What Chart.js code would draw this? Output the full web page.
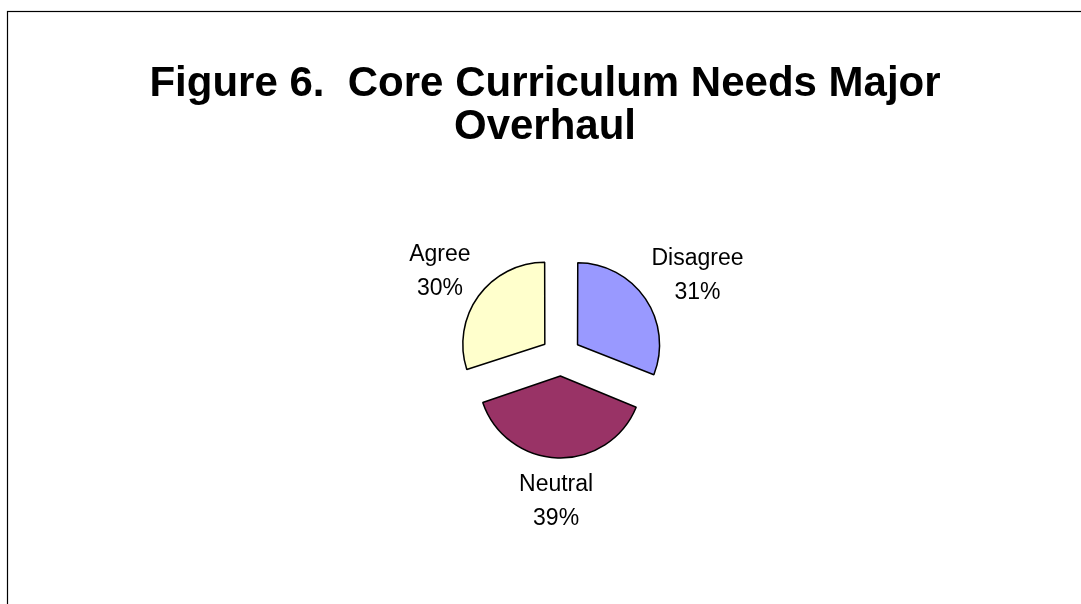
<!DOCTYPE html>
<html>
<head>
<meta charset="utf-8">
<script src="https://cdn.jsdelivr.net/npm/chart.js@4/dist/chart.umd.min.js"></script>
<style>
  html, body { margin: 0; padding: 0; background: #fff; }
  #wrap { width: 1081px; height: 604px; position: relative; }
</style>
</head>
<body>
<div id="wrap"><canvas id="chart"></canvas></div>
<script>
const titleLines = ["Figure 6.  Core Curriculum Needs Major", "Overhaul"];
const categories = ["Disagree", "Neutral", "Agree"];
const shares = [31, 39, 30];
const sliceColors = ["#9999FF", "#993366", "#FFFFCC"];

const fontFamily = "'Liberation Sans', Arial, sans-serif";

// frame + title, drawn behind the pie
const framePlugin = {
  id: "frame",
  beforeDraw(chart) {
    let ctx = chart.ctx;
    ctx.save();
    ctx.fillStyle = "#fff";
    ctx.fillRect(0, 0, chart.width, chart.height);
    ctx.strokeStyle = "#000";
    ctx.lineWidth = 1.2;
    ctx.strokeRect(7.5, 11.5, chart.width + 20, chart.height + 20);
    ctx.fillStyle = "#000";
    ctx.font = "bold 42px " + fontFamily;
    ctx.textAlign = "center";
    ctx.textBaseline = "alphabetic";
    for (let i = 0; i < titleLines.length; i++) {
      ctx.fillText(titleLines[i], 545, 96 + i * 43);
    }
    ctx.restore();
  }
};

// chart.js grows the radius of wide slices when they are offset;
// keep every exploded slice at the same radius
const keepRadius = {
  id: "keepRadius",
  beforeDatasetsDraw(chart) {
    chart.getDatasetMeta(0).data.forEach(arc => {
      let shift = (arc.options.offset || 0) / 4;
      let fix = 1 - Math.sin(Math.min(Math.PI, arc.circumference || 0));
      arc._fullRadius = arc.outerRadius;
      arc.outerRadius = arc.outerRadius - shift * fix;
    });
  },
  afterDatasetsDraw(chart) {
    chart.getDatasetMeta(0).data.forEach(arc => {
      arc.outerRadius = arc._fullRadius;
    });
  }
};

// outside-end labels: name on one line, percentage below
const labelPlugin = {
  id: "sliceLabels",
  afterDatasetsDraw(chart) {
    let ctx = chart.ctx;
    let meta = chart.getDatasetMeta(0);
    let total = shares.reduce((a, b) => a + b, 0);
    ctx.save();
    ctx.font = "23px " + fontFamily;
    ctx.fillStyle = "#000";
    ctx.textAlign = "center";
    ctx.textBaseline = "middle";
    meta.data.forEach((arc, i) => {
      let { x, y, startAngle, endAngle, outerRadius } = arc.getProps(
        ["x", "y", "startAngle", "endAngle", "outerRadius"], true);
      let mid = (startAngle + endAngle) / 2;
      let dx = Math.cos(mid);
      let dy = Math.sin(mid);
      let pct = Math.round(shares[i] / total * 100) + "%";
      let halfW = Math.max(ctx.measureText(categories[i]).width, ctx.measureText(pct).width) / 2;
      let halfH = 26;
      let dist = outerRadius + 20 + 17;
      let cx = x + dx * dist + dx * halfW;
      let cy = y + dy * dist + dy * halfH + 1;
      ctx.fillText(categories[i], cx, cy - 17);
      ctx.fillText(pct, cx, cy + 17);
    });
    ctx.restore();
  }
};

const ctx = document.getElementById("chart");
new Chart(ctx, {
  type: "pie",
  data: {
    labels: categories,
    datasets: [
      {
        data: shares,
        backgroundColor: sliceColors,
        borderColor: "#000",
        borderWidth: 1.5,
        offset: 80,
        radius: 82
      }
    ]
  },
  options: {
    responsive: true,
    maintainAspectRatio: false,
    animation: false,
    layout: { padding: { left: 141, right: 100, top: 158, bottom: 50 } },
    plugins: {
      legend: { display: false },
      title: { display: false },
      tooltip: { enabled: false }
    }
  },
  plugins: [framePlugin, keepRadius, labelPlugin]
});
</script>
</body>
</html>
